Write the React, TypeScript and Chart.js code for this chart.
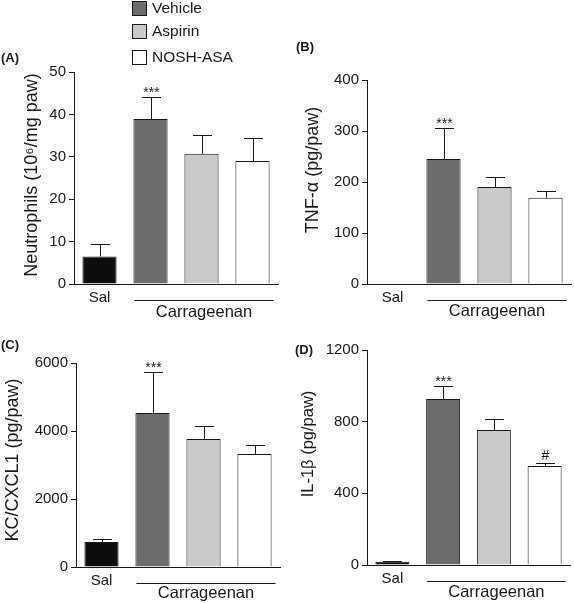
import React, { useEffect, useRef } from 'react';
import { Chart, registerables } from 'chart.js';

Chart.register(...registerables);

// ---------- data ----------
const categories = ['Sal', 'Vehicle', 'Aspirin', 'NOSH-ASA'];
const tickLabels = ['Sal', '', '', ''];
const legendLabels = ['Vehicle', 'Aspirin', 'NOSH-ASA'];
const groupLabel = 'Carrageenan';

const neutrophils = [6.5, 38.9, 30.7, 29.0];
const neutrophilsSem = [3.0, 5.2, 4.5, 5.4];
const neutrophilsMarks = ['', '***', '', ''];

const tnf = [1, 245, 190, 169];
const tnfSem = [0, 61, 20, 13];
const tnfMarks = ['', '***', '', ''];

const kc = [735, 4530, 3765, 3324];
const kcSem = [90, 1205, 382, 264];
const kcMarks = ['', '***', '', ''];

const il1b = [18, 926, 753, 552];
const il1bSem = [4, 73, 62, 17];
const il1bMarks = ['', '***', '', '#'];

// ---------- styles ----------
const FONT = '"Liberation Sans", Arial, Helvetica, sans-serif';
const INK = '#1a1a1a';
const barColors = ['#0d0d0d', '#6c6c6c', '#c9c9c9', '#ffffff'];

type Panel = {
  label: string;
  title: string;
  values: number[];
  sem: number[];
  marks: string[];
  max: number;
  step: number;
  left: number;
  top: number;
  w: number;
  h: number;
  area: { left: number; right: number; top: number; bottom: number };
  titleSize: number;
  titleCenter: [number, number];
  labelPos: [number, number];
  groupTextOffset: number;
  legend: boolean;
};

const panels: Panel[] = [
  {
    label: '(A)', title: 'Neutrophils (10\u2076/mg paw)', values: neutrophils, sem: neutrophilsSem, marks: neutrophilsMarks,
    max: 50, step: 10, left: 0, top: 0, w: 287, h: 325,
    area: { left: 74, right: 278, top: 72, bottom: 284 }, titleSize: 18, titleCenter: [32, 175], labelPos: [1, 58],
    groupTextOffset: 28.5, legend: true,
  },
  {
    label: '(B)', title: 'TNF-\u03b1 (pg/paw)', values: tnf, sem: tnfSem, marks: tnfMarks,
    max: 400, step: 100, left: 287, top: 0, w: 287, h: 325,
    area: { left: 80, right: 284, top: 80, bottom: 284 }, titleSize: 18, titleCenter: [26.5, 170], labelPos: [9, 47],
    groupTextOffset: 27.5, legend: false,
  },
  {
    label: '(C)', title: 'KC/CXCL1 (pg/paw)', values: kc, sem: kcSem, marks: kcMarks,
    max: 6000, step: 2000, left: 0, top: 300, w: 287, h: 303,
    area: { left: 76, right: 280, top: 63, bottom: 267 }, titleSize: 18, titleCenter: [13.5, 160], labelPos: [1, 45],
    groupTextOffset: 26, legend: false,
  },
  {
    label: '(D)', title: 'IL-1\u03b2 (pg/paw)', values: il1b, sem: il1bSem, marks: il1bMarks,
    max: 1200, step: 400, left: 287, top: 300, w: 287, h: 303,
    area: { left: 80, right: 283, top: 50, bottom: 265 }, titleSize: 16.5, titleCenter: [21, 144], labelPos: [8, 50],
    groupTextOffset: 27, legend: false,
  },
];

function makeOverlay(p: Panel) {
  return {
    id: 'overlay',
    afterDatasetsDraw(chart: any) {
      const ctx = chart.ctx as CanvasRenderingContext2D;
      const meta = chart.getDatasetMeta(0);
      const ys = chart.scales.y;
      const area = chart.chartArea;
      ctx.save();
      ctx.strokeStyle = INK;
      ctx.fillStyle = INK;
      ctx.lineWidth = 1;
      // error bars (upper only) and significance marks
      p.values.forEach((v, i) => {
        const bar = meta.data[i];
        const x = Math.round(bar.x) + 0.5;
        const yTop = ys.getPixelForValue(v + p.sem[i]);
        if (p.sem[i] > 0) {
          ctx.beginPath();
          ctx.moveTo(x, bar.y);
          ctx.lineTo(x, Math.round(yTop) + 0.5);
          ctx.moveTo(x - 9.5, Math.round(yTop) + 0.5);
          ctx.lineTo(x + 9.5, Math.round(yTop) + 0.5);
          ctx.stroke();
        }
        if (p.marks[i]) {
          const isHash = p.marks[i] === '#';
          ctx.font = `14px ${FONT}`;
          ctx.textAlign = 'center';
          ctx.textBaseline = 'alphabetic';
          ctx.fillText(p.marks[i], x, yTop - (isHash ? 3 : 0));
        }
      });
      // group line + label
      const b1 = meta.data[1];
      const b3 = meta.data[3];
      const x1 = b1.x - b1.width / 2 + 1;
      const x2 = b3.x + b3.width / 2 + 4;
      const ly = Math.round(area.bottom + 16) + 0.5;
      ctx.beginPath();
      ctx.moveTo(x1, ly);
      ctx.lineTo(x2, ly);
      ctx.stroke();
      ctx.font = `16.5px ${FONT}`;
      ctx.textAlign = 'center';
      ctx.textBaseline = 'middle';
      ctx.fillText(groupLabel, (x1 + x2) / 2, area.bottom + p.groupTextOffset);
      // y-axis title
      ctx.save();
      ctx.translate(p.titleCenter[0], p.titleCenter[1]);
      ctx.rotate(-Math.PI / 2);
      ctx.font = `${p.titleSize}px ${FONT}`;
      ctx.textAlign = 'center';
      ctx.textBaseline = 'middle';
      ctx.fillText(p.title, 0, 0);
      ctx.restore();
      // panel label
      ctx.font = `bold 13px ${FONT}`;
      ctx.textAlign = 'left';
      ctx.textBaseline = 'middle';
      ctx.fillText(p.label, p.labelPos[0], p.labelPos[1]);
      // legend
      if (p.legend) {
        const centers = [8, 31, 57];
        legendLabels.forEach((lab, k) => {
          const cy = centers[k];
          ctx.fillStyle = barColors[k + 1];
          ctx.fillRect(132.5, cy - 6.5, 14, 14);
          ctx.strokeStyle = INK;
          ctx.strokeRect(132.5, cy - 6.5, 14, 14);
          ctx.fillStyle = INK;
          ctx.font = `15.5px ${FONT}`;
          ctx.textAlign = 'left';
          ctx.textBaseline = 'middle';
          ctx.fillText(lab, 152, cy + 1);
        });
      }
      ctx.restore();
    },
  };
}

function PanelChart({ p }: { p: Panel }) {
  const ref = useRef<HTMLCanvasElement | null>(null);
  useEffect(() => {
    if (!ref.current) return;
    const chart = new Chart(ref.current, {
      type: 'bar',
      data: {
        labels: categories,
        datasets: [
          {
            data: p.values,
            backgroundColor: barColors,
            borderColor: INK,
            borderWidth: 1,
            barPercentage: 0.67,
            categoryPercentage: 1,
          },
        ],
      },
      options: {
        responsive: false,
        animation: false,
        devicePixelRatio: 1,
        layout: { padding: { left: 0, top: p.area.top, right: p.w - p.area.right, bottom: 0 } },
        plugins: { legend: { display: false }, tooltip: { enabled: false } },
        scales: {
          x: {
            afterFit: (s: any) => { s.height = p.h - p.area.bottom; },
            grid: { display: false, drawTicks: false },
            border: { display: true, color: INK, width: 1 },
            ticks: {
              callback: (_v: any, i: number) => tickLabels[i],
              font: { size: 15, family: FONT },
              color: INK,
              padding: 5,
              maxRotation: 0,
              autoSkip: false,
            },
          },
          y: {
            min: 0,
            max: p.max,
            afterFit: (s: any) => { s.width = p.area.left; },
            grid: { display: true, drawOnChartArea: false, drawTicks: true, tickLength: 5, color: INK },
            border: { display: true, color: INK, width: 1 },
            ticks: {
              stepSize: p.step,
              font: { size: 15, family: FONT },
              color: INK,
              padding: 3,
              callback: (v: any) => String(v),
            },
            title: { display: false },
          },
        },
      },
      plugins: [makeOverlay(p)],
    } as any);
    return () => chart.destroy();
  }, [p]);
  return (
    <canvas
      ref={ref}
      width={p.w}
      height={p.h}
      style={{ position: 'absolute', left: p.left, top: p.top, width: p.w, height: p.h }}
    />
  );
}

export default function App() {
  useEffect(() => {
    document.body.style.margin = '0';
  }, []);
  return (
    <div style={{ position: 'relative', width: 574, height: 603, background: '#fff', overflow: 'hidden' }}>
      {panels.map((p) => (
        <PanelChart key={p.label} p={p} />
      ))}
    </div>
  );
}
